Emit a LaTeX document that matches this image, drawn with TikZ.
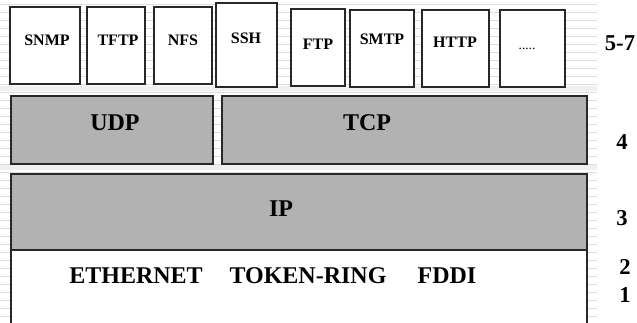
\documentclass[tikz,border=0pt]{standalone}
\usepackage{fontspec}
\setmainfont{Liberation Serif}
\definecolor{layergray}{RGB}{178,178,178}
\definecolor{edgegray}{RGB}{40,40,40}
\definecolor{stripe}{RGB}{222,222,222}
\tikzset{
  appbox/.style={draw=edgegray, fill=white, line width=0.9pt},
  layerbox/.style={draw=edgegray, fill=layergray, line width=0.9pt},
  applabel/.style={font=\bfseries\fontsize{12}{14}\selectfont, inner sep=0pt},
  layerlabel/.style={font=\bfseries\fontsize{18}{21}\selectfont, inner sep=0pt},
  levellabel/.style={font=\bfseries\fontsize{17}{20}\selectfont, inner sep=0pt}
}
\begin{document}
\begin{tikzpicture}[x=0.75pt,y=0.75pt,yscale=-1,xscale=1]
\useasboundingbox (0,0) rectangle (637,323);

%Background stripes
\foreach \y in {4,12,...,320}
  \draw [stripe, line width=0.6pt] (0,\y) -- (597,\y);
\fill [white!94!black] (0,86) rectangle (597,91);
\fill [white!94!black] (0,165) rectangle (597,170);

%Application boxes
\draw [appbox] (10,7) rectangle (80,84);
\draw [appbox] (87,7) rectangle (145,84);
\draw [appbox] (154,7) rectangle (212,84);
\draw [appbox] (216,3) rectangle (277,87);
\draw [appbox] (291,9) rectangle (345,86);
\draw [appbox] (350,10) rectangle (414,87);
\draw [appbox] (422,10) rectangle (489,87);
\draw [appbox] (500,10) rectangle (565,87);

%Transport boxes
\draw [layerbox] (11,96) rectangle (213,164);
\draw [layerbox] (222,96) rectangle (587,164);

%Network box
\draw [layerbox] (11,174) rectangle (587,250);

%Link box
\fill [white] (11,250) rectangle (587,323);
\draw [edgegray, line width=0.9pt] (11,323) -- (11,250) -- (587,250) -- (587,323);

% Text Node
\node [applabel] (snmp) at (47,40) {SNMP};
\node [applabel] (tftp) at (118,40) {TFTP};
\node [applabel] (nfs) at (183,40) {NFS};
\node [applabel] (ssh) at (246,38) {SSH};
\node [applabel] (ftp) at (318,44) {FTP};
\node [applabel] (smtp) at (382,39) {SMTP};
\node [applabel] (http) at (455,42) {HTTP};
\node [font=\fontsize{10}{12}\selectfont, inner sep=0pt] (more) at (527,49) {.....};
% Text Node
\node [layerlabel] (udp) at (115,123) {UDP};
\node [layerlabel] (tcp) at (367,123) {TCP};
\node [layerlabel] (ip) at (281,209) {IP};
\node [layerlabel] (eth) at (136,276) {ETHERNET};
\node [layerlabel] (token) at (308,276) {TOKEN-RING};
\node [layerlabel] (fddi) at (447,276) {FDDI};
% Text Node
\node [levellabel] (l57) at (620,43) {5-7};
\node [levellabel] (l4) at (622,142) {4};
\node [levellabel] (l3) at (622,218) {3};
\node [levellabel] (l2) at (625,267) {2};
\node [levellabel] (l1) at (625,295) {1};

\end{tikzpicture}
\end{document}
